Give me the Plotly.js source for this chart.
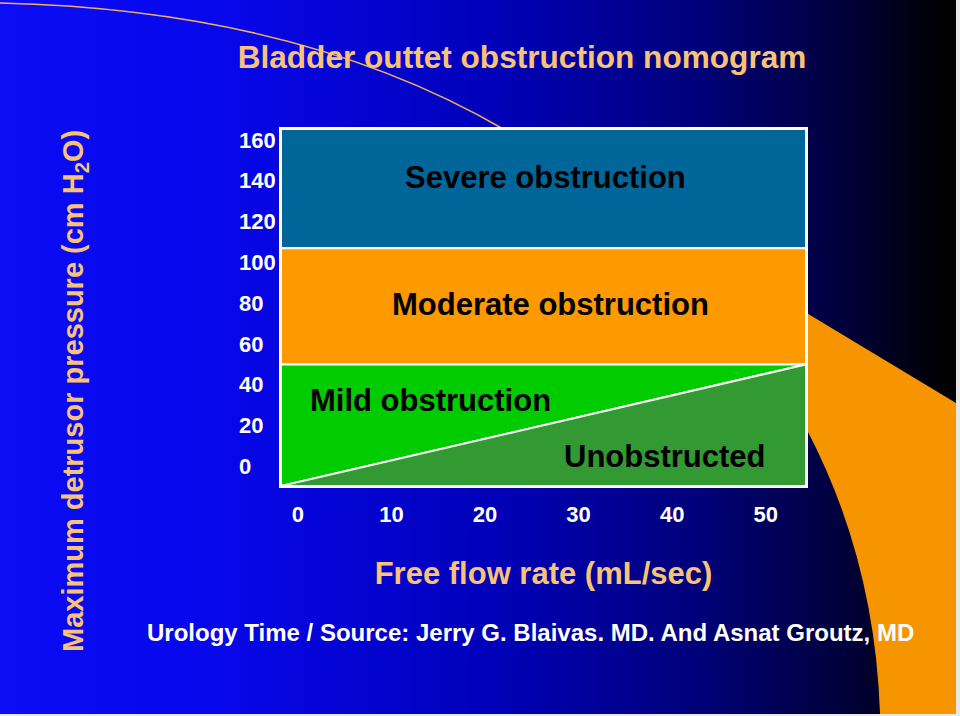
<!DOCTYPE html>
<html>
<head>
<meta charset="utf-8">
<script src="https://cdn.plot.ly/plotly-3.0.1.min.js"></script>
<style>
  html, body { margin:0; padding:0; background:#e8e8e8; }
  #wrap { position:relative; width:960px; height:716px; overflow:hidden; }
  #slide { position:absolute; left:0; top:0; width:956px; height:714px;
           background: linear-gradient(to right, #0c0cf5 0%, #0707ec 22%, #0000b8 52%, #00007a 73%, #00003c 88%, #000000 99%); }
  #chart { position:absolute; left:0; top:0; width:960px; height:716px; }
</style>
</head>
<body>
<div id="wrap"><div id="slide"></div><div id="chart"></div></div>
<script>
// ---- data ----
const flowTicks = [0, 10, 20, 30, 40, 50];                       // ml/sec
const pressureTicks = [0, 20, 40, 60, 80, 100, 120, 140, 160];   // cm H2O
const flowRange = [-1.8, 54.3];
const pressureRange = [-9.6, 165.4];
const zoneNames = ['Severe obstruction', 'Moderate obstruction', 'Mild obstruction', 'Unobstructed'];
const zoneColors = ['#00669a', '#ff9900', '#00cc00', '#339933'];
const severeFloor = 107;     // pressure where severe zone begins
const moderateFloor = 50;    // pressure where moderate zone begins
const dividerFlow = [-1.8, 54.3];      // mild / unobstructed divider
const dividerPressure = [-9.6, 50];

const FONT = 'Arial, "Liberation Sans", sans-serif';
const [x0, x1] = flowRange;
const [y0, y1] = pressureRange;

const traces = [
  { x:[x0,x1,x1,x0,x0], y:[severeFloor,severeFloor,y1,y1,severeFloor], fillcolor:zoneColors[0], name:zoneNames[0] },
  { x:[x0,x1,x1,x0,x0], y:[moderateFloor,moderateFloor,severeFloor,severeFloor,moderateFloor], fillcolor:zoneColors[1], name:zoneNames[1] },
  { x:[dividerFlow[0],dividerFlow[1],x1,x0,dividerFlow[0]], y:[dividerPressure[0],dividerPressure[1],moderateFloor,moderateFloor,dividerPressure[0]], fillcolor:zoneColors[2], name:zoneNames[2] },
  { x:[dividerFlow[0],x1,dividerFlow[1],dividerFlow[0]], y:[dividerPressure[0],y0,dividerPressure[1],dividerPressure[0]], fillcolor:zoneColors[3], name:zoneNames[3] }
].map(t => Object.assign({ type:'scatter', mode:'lines', fill:'toself', line:{color:'#ffffff', width:2}, hoverinfo:'skip' }, t));

// pixel -> paper helpers for slide decoration
const L = 281, R = 806, T = 129, B = 486;
const X = p => +((p - L) / (R - L)).toFixed(4);
const Y = p => +((B - p) / (B - T)).toFixed(4);

const orangePath = `M ${X(790)},${Y(303)} L ${X(956)},${Y(403)} L ${X(956)},${Y(714)} L ${X(880)},${Y(714)} Q ${X(875)},${Y(560)} ${X(807)},${Y(430)} L ${X(790)},${Y(400)} Z`;
const arcPath = `M ${X(0)},${Y(3)} Q ${X(300)},${Y(10)} ${X(505)},${Y(130)}`;

const labelFont = { family:FONT, size:31, color:'#000000', weight:'bold' };
const annotations = [
  { text:zoneNames[0], x:26.5, y:141.4 },
  { text:zoneNames[1], x:27.0, y:79.6 },
  { text:zoneNames[2], x:14.2, y:32.5 },
  { text:zoneNames[3], x:39.2, y:5.1 }
].map(a => Object.assign({ xref:'x', yref:'y', showarrow:false, font:labelFont, xanchor:'center', yanchor:'middle' }, a));

pressureTicks.forEach(v => annotations.push({
  text:String(v), xref:'paper', x:X(237), xanchor:'left', yref:'y', y:v, yanchor:'middle',
  showarrow:false, font:{family:FONT, size:22, color:'#ffffff', weight:'bold'}
}));

// y-axis title (placed as rotated annotation so it can sit lower than the axis centre, as on the slide)
annotations.push({
  text:'Maximum detrusor pressure (cm H<sub>2</sub>O)', textangle:-90,
  xref:'paper', yref:'paper', x:X(75), y:Y(391), xanchor:'center', yanchor:'middle',
  showarrow:false, font:{family:FONT, size:29, color:'#f9c377', weight:'bold'}
});

annotations.push({
  text:'Urology Time / Source: Jerry G. Blaivas. MD. And Asnat Groutz, MD',
  xref:'paper', yref:'paper', x:X(530), y:Y(632), xanchor:'center', yanchor:'middle',
  showarrow:false, font:{family:FONT, size:24, color:'#ffffff', weight:'bold'}
});

const layout = {
  width:960, height:716,
  margin:{l:L, r:960-R, t:T, b:716-B},
  paper_bgcolor:'rgba(0,0,0,0)', plot_bgcolor:'rgba(0,0,0,0)',
  showlegend:false, hovermode:false,
  title:{ text:'Bladder outtet obstruction nomogram', font:{family:FONT, size:31.6, color:'#f9c377', weight:'bold'},
          xref:'container', yref:'container', x:522/960, y:1-57/716, xanchor:'center', yanchor:'middle' },
  xaxis:{ range:flowRange, tickvals:flowTicks, ticktext:flowTicks.map(String),
          showgrid:false, zeroline:false, showline:true, mirror:true, linecolor:'#ffffff', linewidth:2,
          ticks:'outside', ticklen:8, tickcolor:'rgba(0,0,0,0)',
          tickfont:{family:FONT, size:22, color:'#ffffff', weight:'bold'},
          title:{ text:'Free flow rate (mL/sec)', standoff:36, font:{family:FONT, size:31, color:'#f9c377', weight:'bold'} } },
  yaxis:{ range:pressureRange, tickvals:pressureTicks, showticklabels:false,
          showgrid:false, zeroline:false, showline:true, mirror:true, linecolor:'#ffffff', linewidth:2, ticks:'' },
  shapes:[
    { type:'path', xref:'paper', yref:'paper', path:orangePath, fillcolor:'#f69500', line:{width:0}, layer:'below' },
    { type:'path', xref:'paper', yref:'paper', path:arcPath, line:{color:'#f0b060', width:1.5}, layer:'below' }
  ],
  annotations:annotations
};

Plotly.newPlot('chart', traces, layout, {staticPlot:true, displayModeBar:false});
</script>
</body>
</html>
